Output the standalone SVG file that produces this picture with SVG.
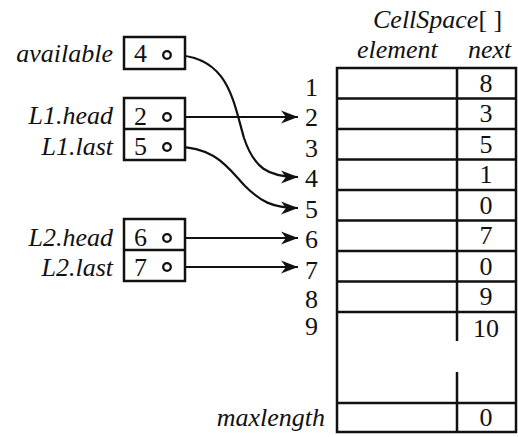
<svg xmlns="http://www.w3.org/2000/svg" width="518" height="437" viewBox="0 0 518 437" font-family="'Liberation Serif', 'Times New Roman', 'DejaVu Serif', serif">
<style>
text{font-family:'Liberation Serif','Times New Roman','DejaVu Serif',serif;font-size:26px;fill:#111}
.it{font-style:italic}
.lab{text-anchor:end;font-style:italic}
.num{text-anchor:end}
.val{text-anchor:middle}
.box{fill:#fff;stroke:#111;stroke-width:2.5}
.tl{stroke:#111;stroke-width:2.5;fill:none}
.con{stroke:#111;stroke-width:2.2;fill:none;marker-end:url(#ah)}
.dot{fill:#fff;stroke:#111;stroke-width:2.3}
</style>
<defs>
<marker id="ah" markerUnits="userSpaceOnUse" markerWidth="20" markerHeight="14" viewBox="-17 -7 18 14" refX="0" refY="0" orient="auto">
<path d="M0,0 L-17,-6.5 L-12,0 L-17,6.5 Z" fill="#111"/>
</marker>
</defs>
<g id="connectors">
<path class="con" d="M170.5,55 C228,54 233,100 244,138 C254,168 268,177 298,177"/>
<path class="con" d="M170.5,117 L298,117"/>
<path class="con" d="M170.5,147 C215,145 228,168 245,186 C260,201 272,208 298,208"/>
<path class="con" d="M170.5,238 L298,238"/>
<path class="con" d="M170.5,267 L298,267"/>
</g>
<g id="available">
<text class="lab" x="113" y="62">available</text>
<rect class="box" x="124" y="37" width="61" height="32"/>
<text x="134" y="62">4</text>
<circle class="dot" cx="167" cy="55" r="3.8"/>
</g>
<g id="L1">
<text class="lab" x="113" y="124">L1.head</text>
<text class="lab" x="113" y="155">L1.last</text>
<rect class="box" x="124" y="98" width="61" height="62"/>
<line class="tl" x1="124" y1="129" x2="185" y2="129"/>
<text x="134" y="125">2</text>
<text x="134" y="155">5</text>
<circle class="dot" cx="167" cy="117" r="3.8"/>
<circle class="dot" cx="167" cy="147" r="3.8"/>
</g>
<g id="L2">
<text class="lab" x="113" y="246">L2.head</text>
<text class="lab" x="113" y="276">L2.last</text>
<rect class="box" x="124" y="219" width="61" height="62"/>
<line class="tl" x1="124" y1="250" x2="185" y2="250"/>
<text x="134" y="246">6</text>
<text x="134" y="276">7</text>
<circle class="dot" cx="167" cy="238" r="3.8"/>
<circle class="dot" cx="167" cy="267" r="3.8"/>
</g>
<g id="CellSpace">
<text class="it" x="373" y="28">CellSpace<tspan font-style="normal">[ ]</tspan></text>
<text class="it" x="357" y="58">element</text>
<text class="it" x="468" y="58">next</text>
<rect class="box" x="337" y="68" width="179" height="364"/>
<path class="tl" d="M337,98.5H516M337,129H516M337,159.5H516M337,190H516M337,220.5H516M337,251H516M337,281.5H516M337,312H516M337,403H516"/>
<path class="tl" d="M457,68V341M457,372V432"/>
<text class="num" x="318" y="96">1</text>
<text class="num" x="318" y="126">2</text>
<text class="num" x="318" y="157">3</text>
<text class="num" x="318" y="187">4</text>
<text class="num" x="318" y="218">5</text>
<text class="num" x="318" y="248">6</text>
<text class="num" x="318" y="279">7</text>
<text class="num" x="318" y="308">8</text>
<text class="num" x="318" y="335">9</text>
<text class="lab" x="325" y="426">maxlength</text>
<text class="val" x="486" y="92">8</text>
<text class="val" x="486" y="122">3</text>
<text class="val" x="486" y="153">5</text>
<text class="val" x="486" y="183">1</text>
<text class="val" x="486" y="214">0</text>
<text class="val" x="486" y="244">7</text>
<text class="val" x="486" y="275">0</text>
<text class="val" x="486" y="305">9</text>
<text class="val" x="486" y="337">10</text>
<text class="val" x="486" y="426">0</text>
</g>
</svg>
